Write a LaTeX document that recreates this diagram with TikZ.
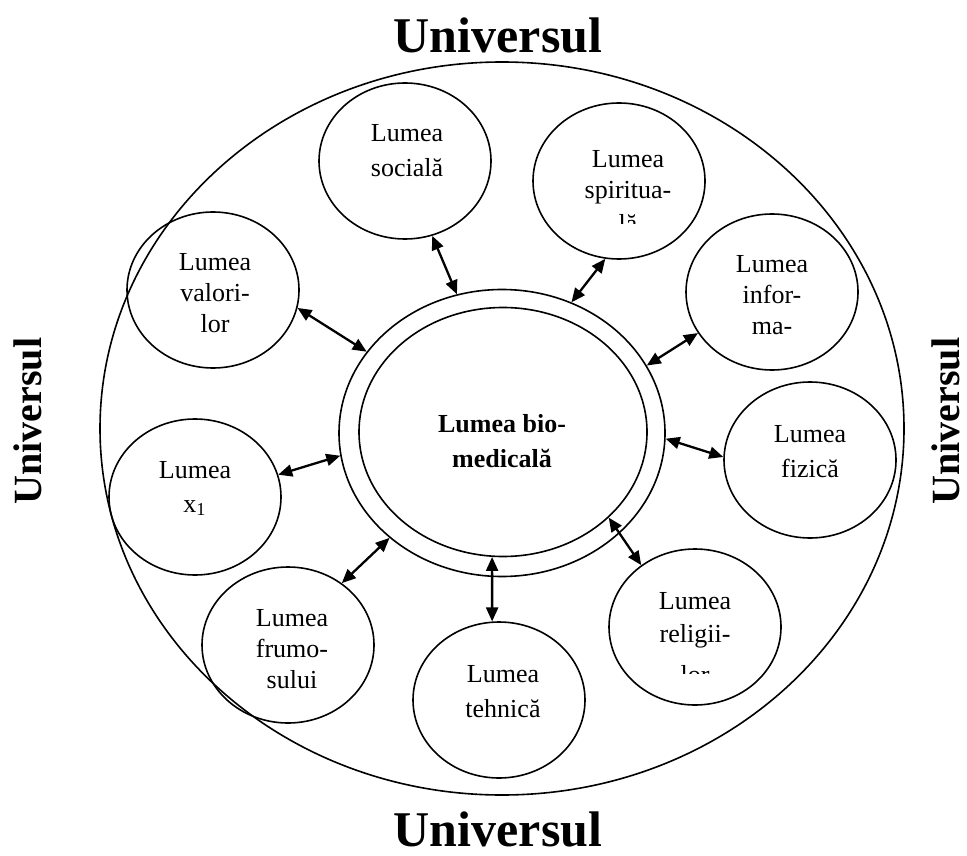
\documentclass[tikz,border=0pt]{standalone}
\usepackage{fontspec}
\setmainfont{Liberation Serif}
\usetikzlibrary{shapes.geometric,arrows.meta}

\tikzset{
  world/.style={ellipse, draw, line width=0.8pt, minimum width=86pt, minimum height=78pt, inner sep=0pt},
  wlabel/.style={align=center, anchor=base, inner sep=0pt, font=\fontsize{13}{15.5}\selectfont},
  link/.style={line width=1.15pt, {Triangle[length=7pt,width=6pt]}-{Triangle[length=7pt,width=6pt]}},
  unilabel/.style={inner sep=0pt, anchor=base, font=\fontsize{25}{30}\selectfont\bfseries}
}

\begin{document}
\begin{tikzpicture}[x=0.5pt, y=-0.5pt]
    \useasboundingbox (0,0) rectangle (967,855);

    % the universe round everything
    \node[world, minimum width=402pt, minimum height=366.5pt] (univ) at (502,428.5) {};
    \node[unilabel] (uniN) at (498,53) {Universul};
    \node[unilabel] (uniS) at (498,846) {Universul};
    \node[unilabel, rotate=90, anchor=center, font=\fontsize{20}{24}\selectfont\bfseries] (uniW) at (28,421) {Universul};
    \node[unilabel, rotate=90, anchor=center, font=\fontsize{20}{24}\selectfont\bfseries] (uniE) at (946,421) {Universul};

    % central double ellipse
    \node[world, minimum width=163pt, minimum height=143.5pt] (ring) at (502,433) {};
    \node[world, minimum width=144pt, minimum height=124.5pt] (bio) at (503,432) {};
    \node[wlabel, font=\fontsize{13}{17.5}\selectfont\bfseries] (bioT) at (502,467) {Lumea bio-\\medicală};

    % the worlds round it (text placed by its last line)
    \node[world] (soc) at (405,161) {};
    \node[wlabel] (socT) at (407,177) {Lumea\\[2pt]socială};
    \node[world] (val) at (213,290) {};
    \node[wlabel] (valT) at (215,332) {Lumea\\valori-\\lor};
    \node[world] (x1) at (195,497) {};
    \node[wlabel] (x1T) at (195,512) {Lumea\\[1.5pt]x\textsubscript{1}};
    \node[world] (fru) at (288,645) {};
    \node[wlabel] (fruT) at (292,688) {Lumea\\frumo-\\sului};
    \node[world] (teh) at (499,700) {};
    \node[wlabel] (tehT) at (503,717) {Lumea\\[2pt]tehnică};
    \node[world] (rel) at (695,627) {};
    \node[world] (fiz) at (810,460) {};
    \node[wlabel] (fizT) at (810,477) {Lumea\\[2pt]fizică};
    \node[world] (inf) at (772,292) {};
    \node[world] (spi) at (619,181) {};

    % texts cut off by their boxes
    \begin{scope}
        \clip (spi.west |- spi.north) rectangle ([yshift=-21.5pt]spi.east);
        \node[wlabel] (spiT) at (628,233) {Lumea\\spiritua-\\[1.5pt]lă};
    \end{scope}
    \begin{scope}
        \clip (inf.west |- inf.north) rectangle ([yshift=-22.5pt]inf.east);
        \node[wlabel] (infT) at (772,365) {Lumea\\infor-\\ma-\\ției};
    \end{scope}
    \begin{scope}
        \clip (rel.west |- rel.north) rectangle ([yshift=-23pt]rel.east);
        \node[wlabel] (relT) at (695,683) {Lumea\\[1pt]religii-\\[5pt]lor};
    \end{scope}

    % two-way arrows
    \draw[link] (soc.-70) -- (ring.108);
    \draw[link] (spi.-100) -- (ring.62);
    \draw[link] (inf.-151) -- (ring.25);
    \draw[link] (fiz.178) -- (ring.-2);
    \draw[link] (rel.131) -- (bio.-39);
    \draw[link] (teh.95) -- (bio.-95);
    \draw[link] (fru.49) -- (ring.-137);
    \draw[link] (x1.15) -- (ring.188);
    \draw[link] (val.-12) -- (ring.149);
\end{tikzpicture}
\end{document}
